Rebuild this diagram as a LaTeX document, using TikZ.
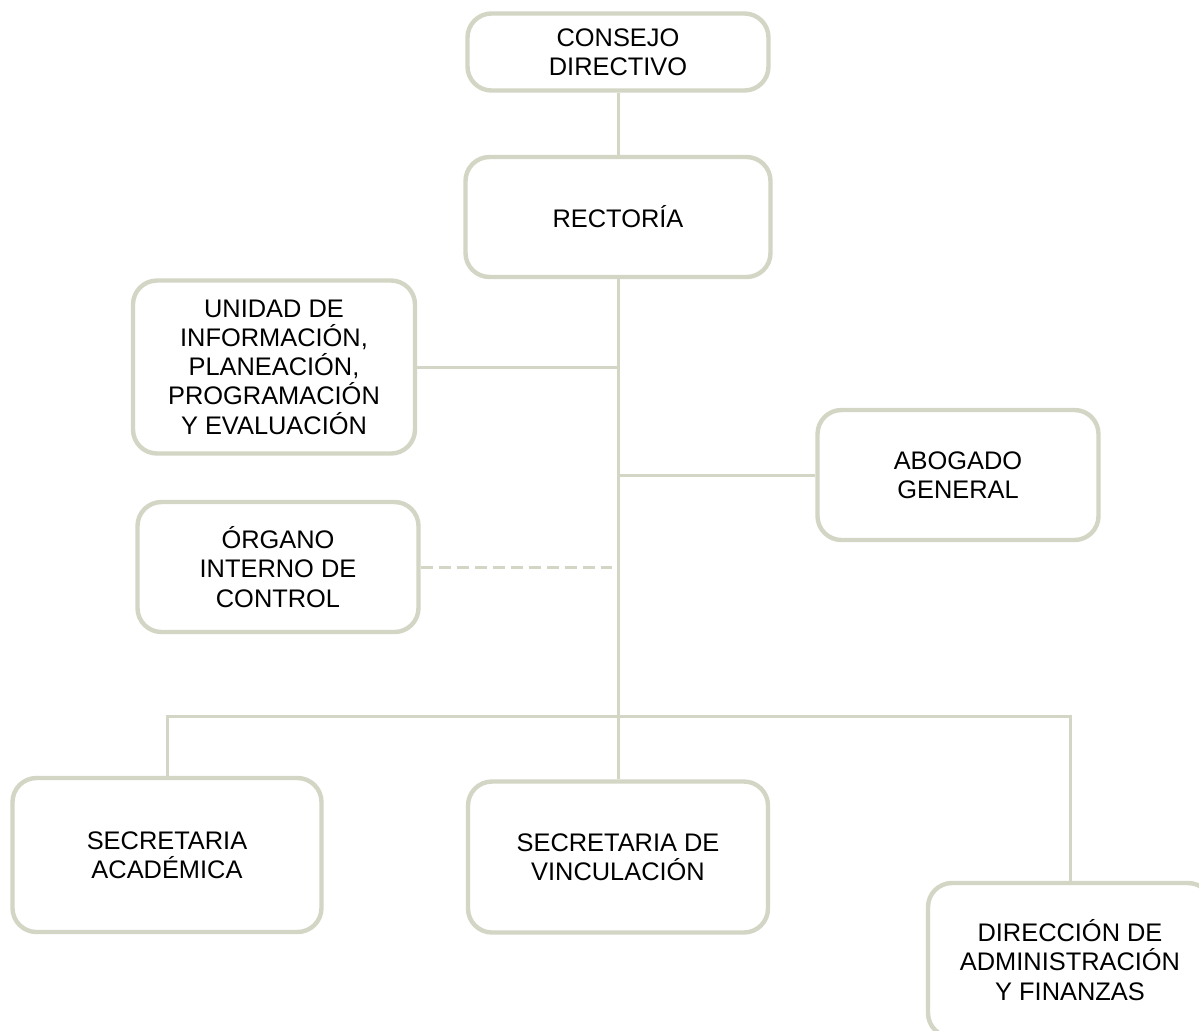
\documentclass[tikz,border=0pt]{standalone}
\usepackage{fontspec}
\setmainfont{Liberation Sans}
\usetikzlibrary{positioning,calc}
\definecolor{sage}{RGB}{211,214,196}

\begin{document}
\begin{tikzpicture}[x=0.5pt,y=-0.5pt,
    box/.style={draw=sage, line width=2.2pt, rounded corners=12pt, fill=white,
      align=center, font=\fontsize{12.7}{14.6}\selectfont, inner sep=0pt},
    link/.style={draw=sage, line width=1.5pt}]
  \useasboundingbox (0,0) rectangle (1199,1030);
  % org chart boxes
  \node[box, minimum width=150.5pt, minimum height=38.5pt] (consejo) at (618,52) {CONSEJO\\DIRECTIVO};
  \node[box, minimum width=152.5pt, minimum height=60pt] (rectoria) at (618,217) {RECTORÍA};
  \node[box, minimum width=141pt, minimum height=86.5pt] (unidad) at (274,367) {UNIDAD DE\\INFORMACIÓN,\\PLANEACIÓN,\\PROGRAMACIÓN\\Y EVALUACIÓN};
  \node[box, minimum width=140.5pt, minimum height=65pt] (abogado) at (958,475) {ABOGADO\\GENERAL};
  \node[box, minimum width=140.5pt, minimum height=65pt] (organo) at (278,567) {ÓRGANO\\INTERNO DE\\CONTROL};
  \node[box, minimum width=154.5pt, minimum height=77pt] (acad) at (167,855) {SECRETARIA\\ACADÉMICA};
  \node[box, minimum width=150pt, minimum height=75.5pt] (vinc) at (618,857) {SECRETARIA DE\\VINCULACIÓN};
  \node[box, minimum width=142pt, minimum height=77pt] (dir) at (1070,960) {DIRECCIÓN DE\\ADMINISTRACIÓN\\Y FINANZAS};
  % junctions on the spine
  \coordinate (bar) at (618,716);
  \coordinate (oic) at (612,567);
  % connectors
  \draw[link] (consejo) -- (rectoria);
  \draw[link] (rectoria) -- (vinc);
  \draw[link] (unidad.east) -- (unidad.east -| rectoria.south);
  \draw[link] (abogado.west) -- (abogado.west -| rectoria.south);
  \draw[link, dash pattern=on 6pt off 3pt] (organo.east) -- (oic);
  \draw[link] (acad.north) |- (bar) -| (dir.north);
\end{tikzpicture}
\end{document}
